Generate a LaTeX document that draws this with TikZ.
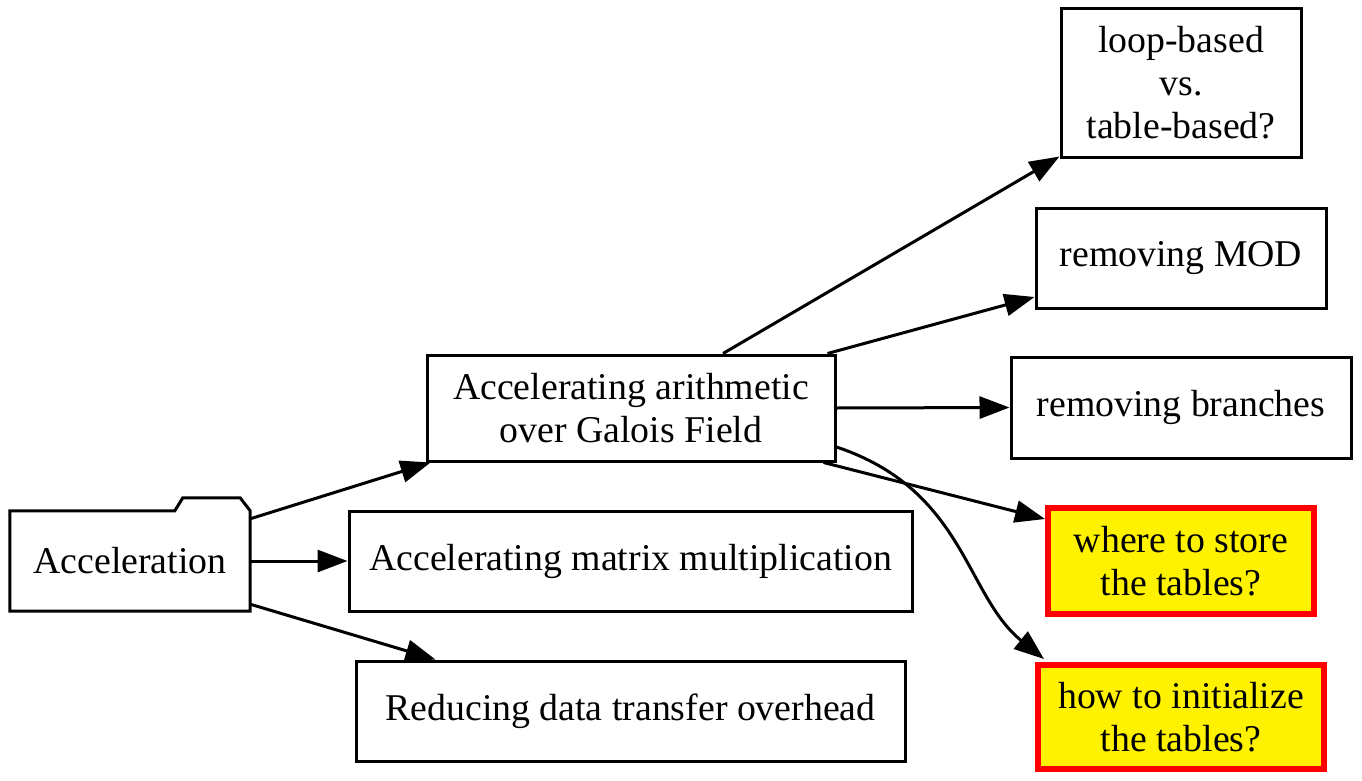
\documentclass[tikz,border=0pt]{standalone}
\usepackage{fontspec}
\setmainfont{Liberation Serif}
\usetikzlibrary{arrows.meta,calc}
\begin{document}
\begin{tikzpicture}[x=1pt,y=-1pt,
  box/.style={draw=black,line width=3pt,fill=white,inner sep=0pt,align=center,
    font=\fontsize{37.8}{43}\selectfont},
  hot/.style={box,draw=red,fill=yellow,line width=6pt},
  arr/.style={line width=3pt,-{Triangle[length=30pt,width=22pt]}}]
\useasboundingbox (0,0) rectangle (1362,781);
% folder node
\node[inner sep=0pt,minimum width=240pt,minimum height=100pt,align=center,
  font=\fontsize{37.8}{43}\selectfont] (acc) at (130,561) {Acceleration};
\draw[line width=3pt,line join=miter] (acc.north west) -- ($(acc.north west)+(165,0)$)
  -- ($(acc.north west)+(173,-13)$) -- ($(acc.north east)+(-10,-13)$)
  -- (acc.north east) -- (acc.south east) -- (acc.south west) -- cycle;
\node[box,minimum width=408pt,minimum height=106pt] (arith) at (631,408) {Accelerating arithmetic\\over Galois Field};
\node[box,minimum width=563pt,minimum height=100pt] (mat) at (630.5,561) {Accelerating matrix multiplication};
\node[box,minimum width=549pt,minimum height=100pt] (red) at (630.5,711) {Reducing data transfer overhead};
\node[box,minimum width=240pt,minimum height=148pt] (loop) at (1181,83) {loop-based\\vs.\\table-based?};
\node[box,minimum width=290pt,minimum height=100pt] (mod) at (1181,258) {removing MOD};
\node[box,minimum width=340pt,minimum height=101pt] (br) at (1181,407.5) {removing branches};
\node[hot,minimum width=266pt,minimum height=106pt] (where) at (1181,561) {where to store\\the tables?};
\node[hot,minimum width=286pt,minimum height=104pt] (how) at (1181,717) {how to initialize\\the tables?};
% edges
\draw[arr] ($(acc.north east)+(0,8)$) -- ($(arith.south west)+(5,0)$);
\draw[arr] (acc.east) -- (mat.west);
\draw[arr] ($(acc.south east)+(0,-7)$) -- ($(red.north west)+(81,0)$);
\draw[arr] ($(arith.north)+(92,0)$) -- ($(loop.south west)+(0,-2)$);
\draw[arr] ($(arith.north east)+(-9,0)$) -- ($(mod.west)+(0,39)$);
\draw[arr] (arith.east) -- (br.west);
\draw[arr] ($(arith.south east)+(-13,0)$) -- ($(where.north west)+(0,14)$);
\draw[arr] ($(arith.east)+(0,39)$) .. controls (965,490) and (965,595) .. ($(how.north west)+(9,-3)$);
\end{tikzpicture}
\end{document}
